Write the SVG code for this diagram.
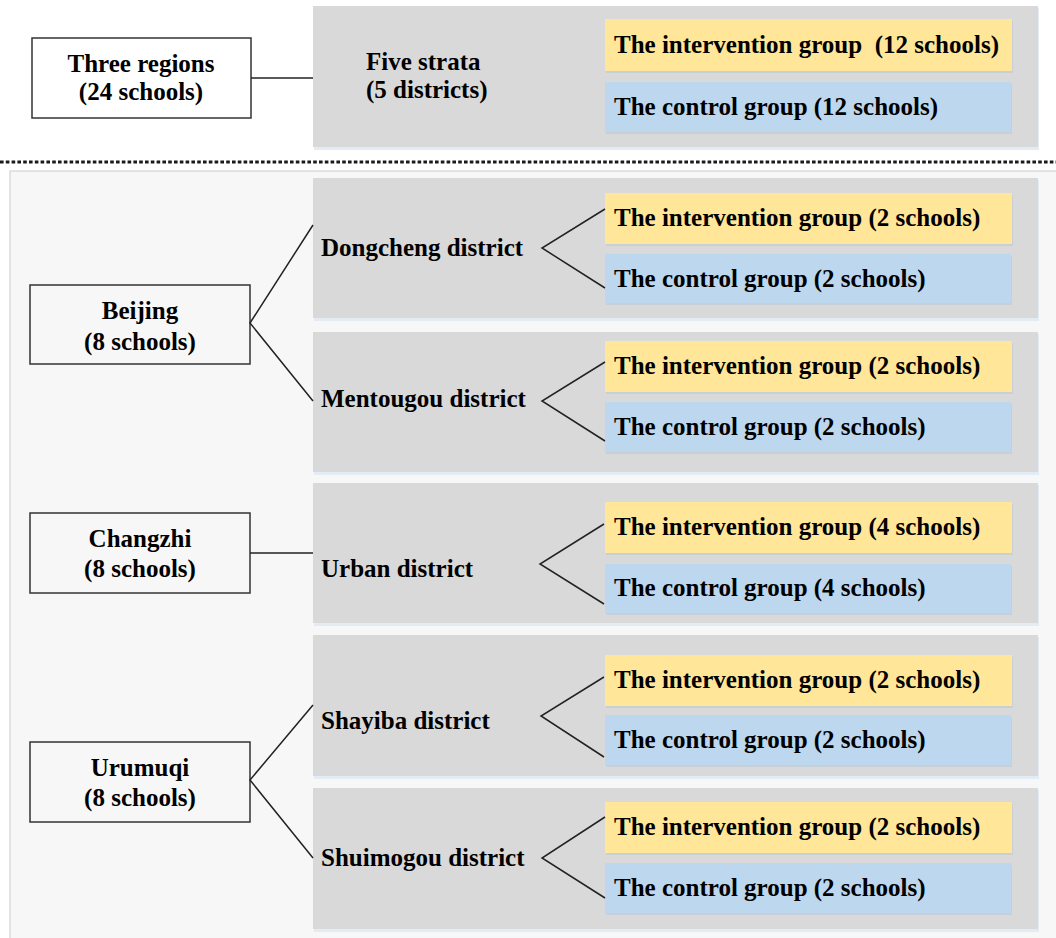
<svg xmlns="http://www.w3.org/2000/svg" width="1056" height="938" viewBox="0 0 1056 938">
<defs>
<style>
text{font-family:"Liberation Serif","Times New Roman",serif;font-weight:bold;font-size:25px;fill:#000;white-space:pre}
.mid{text-anchor:middle}
.region{fill:#f7f7f7;stroke:#333;stroke-width:1.5}
.regiontop{fill:#fff;stroke:#333;stroke-width:1.5}
.stratum{fill:#d9d9d9}
.stshadow{fill:#e3ebf5}
.gshadow{fill:#c9cfd6}
.int{fill:#ffe699}
.ctl{fill:#bdd7ee}
.conn line,.conn polyline{stroke:#222;stroke-width:1.5;fill:none}
</style>
</defs>
<rect x="0" y="0" width="1056" height="938" fill="#fff"/>
<rect x="10" y="171" width="1060" height="780" fill="#f7f7f7" stroke="#d2d2d2" stroke-width="1.2"/>
<line x1="0" y1="162" x2="1056" y2="162" stroke="#1a1a1a" stroke-width="3" stroke-dasharray="3.6 2.2"/>

<g id="top-strata">
<rect class="stshadow" x="314" y="8" width="725" height="142"/>
<rect class="stratum" x="313" y="6" width="725" height="141"/>
<text x="366" y="70">Five strata</text>
<text x="366" y="98">(5 districts)</text>
</g>
<g id="top-intervention">
<rect class="gshadow" x="606" y="21" width="407" height="52"/>
<rect class="int" x="605" y="19" width="407" height="52"/>
<text x="614" y="53">The intervention group  (12 schools)</text>
</g>
<g id="top-control">
<rect class="gshadow" x="606" y="84" width="406" height="50"/>
<rect class="ctl" x="605" y="82" width="406" height="50"/>
<text x="614" y="115">The control group (12 schools)</text>
</g>
<g id="three-regions">
<rect class="regiontop" x="32" y="38" width="219" height="80"/>
<text class="mid" x="141" y="72">Three regions</text>
<text class="mid" x="141" y="100">(24 schools)</text>
</g>

<g id="dongcheng">
<rect class="stshadow" x="314" y="180" width="725" height="141"/>
<rect class="stratum" x="313" y="178" width="725" height="140"/>
<text x="321" y="256">Dongcheng district</text>
</g>
<g id="mentougou">
<rect class="stshadow" x="314" y="334" width="725" height="141"/>
<rect class="stratum" x="313" y="332" width="725" height="140"/>
<text x="321" y="407">Mentougou district</text>
</g>
<g id="urban">
<rect class="stshadow" x="314" y="485" width="725" height="141"/>
<rect class="stratum" x="313" y="483" width="725" height="140"/>
<text x="321" y="577">Urban district</text>
</g>
<g id="shayiba">
<rect class="stshadow" x="314" y="637" width="725" height="142"/>
<rect class="stratum" x="313" y="635" width="725" height="141"/>
<text x="321" y="729">Shayiba district</text>
</g>
<g id="shuimogou">
<rect class="stshadow" x="314" y="790" width="725" height="142"/>
<rect class="stratum" x="313" y="788" width="725" height="141"/>
<text x="321" y="866">Shuimogou district</text>
</g>

<g id="dongcheng-int"><rect class="gshadow" x="606" y="195" width="407" height="51"/><rect class="int" x="605" y="193" width="407" height="51"/><text x="614" y="226">The intervention group (2 schools)</text></g>
<g id="dongcheng-ctl"><rect class="gshadow" x="606" y="256" width="406" height="49"/><rect class="ctl" x="605" y="254" width="406" height="49"/><text x="614" y="287">The control group (2 schools)</text></g>
<g id="mentougou-int"><rect class="gshadow" x="606" y="343" width="407" height="51"/><rect class="int" x="605" y="341" width="407" height="51"/><text x="614" y="374">The intervention group (2 schools)</text></g>
<g id="mentougou-ctl"><rect class="gshadow" x="606" y="404" width="406" height="50"/><rect class="ctl" x="605" y="402" width="406" height="50"/><text x="614" y="435">The control group (2 schools)</text></g>
<g id="urban-int"><rect class="gshadow" x="606" y="504" width="407" height="51"/><rect class="int" x="605" y="502" width="407" height="51"/><text x="614" y="535">The intervention group (4 schools)</text></g>
<g id="urban-ctl"><rect class="gshadow" x="606" y="566" width="406" height="49"/><rect class="ctl" x="605" y="564" width="406" height="49"/><text x="614" y="596">The control group (4 schools)</text></g>
<g id="shayiba-int"><rect class="gshadow" x="606" y="657" width="407" height="51"/><rect class="int" x="605" y="655" width="407" height="51"/><text x="614" y="688">The intervention group (2 schools)</text></g>
<g id="shayiba-ctl"><rect class="gshadow" x="606" y="717" width="406" height="50"/><rect class="ctl" x="605" y="715" width="406" height="50"/><text x="614" y="748">The control group (2 schools)</text></g>
<g id="shuimogou-int"><rect class="gshadow" x="606" y="804" width="407" height="51"/><rect class="int" x="605" y="802" width="407" height="51"/><text x="614" y="835">The intervention group (2 schools)</text></g>
<g id="shuimogou-ctl"><rect class="gshadow" x="606" y="865" width="406" height="50"/><rect class="ctl" x="605" y="863" width="406" height="50"/><text x="614" y="896">The control group (2 schools)</text></g>

<g id="beijing">
<rect class="region" x="30" y="285" width="220" height="79"/>
<text class="mid" x="140" y="319">Beijing</text>
<text class="mid" x="140" y="350">(8 schools)</text>
</g>
<g id="changzhi">
<rect class="region" x="30" y="513" width="220" height="80"/>
<text class="mid" x="140" y="547">Changzhi</text>
<text class="mid" x="140" y="577">(8 schools)</text>
</g>
<g id="urumuqi">
<rect class="region" x="30" y="742" width="220" height="80"/>
<text class="mid" x="140" y="776">Urumuqi</text>
<text class="mid" x="140" y="806">(8 schools)</text>
</g>

<g id="connectors" class="conn">
<line x1="251" y1="78" x2="313" y2="78"/>
<polyline points="313,225 250,323 313,401"/>
<line x1="250" y1="553" x2="313" y2="553"/>
<polyline points="313,705 250,780 313,858"/>
<polyline points="605,209 542,248 605,288"/>
<polyline points="605,362 542,401 605,441"/>
<polyline points="604,524 540,564 604,604"/>
<polyline points="604,677 541,716 604,757"/>
<polyline points="605,817 542,858 605,898"/>
</g>
</svg>
